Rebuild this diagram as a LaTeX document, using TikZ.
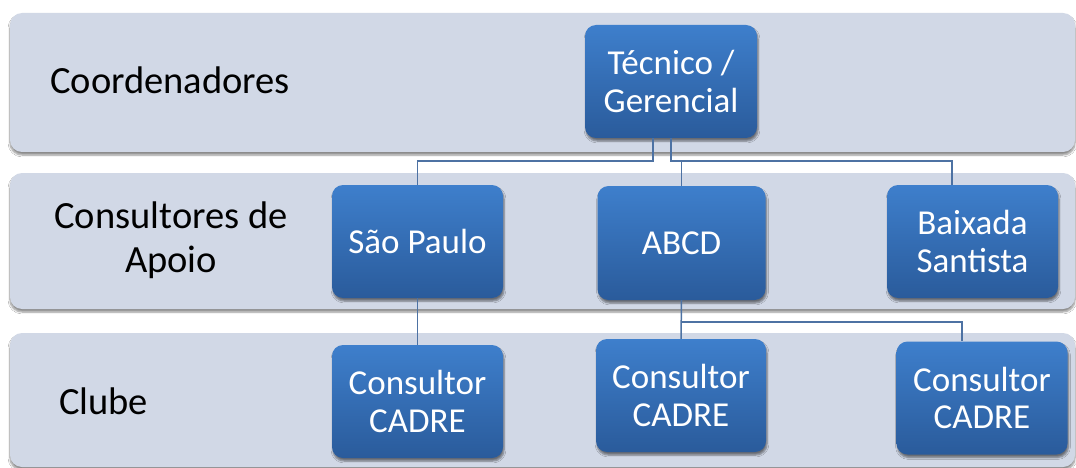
\documentclass[tikz,border=0pt]{standalone}
\usepackage{fontspec}
\setmainfont{Carlito}
\usetikzlibrary{shadows,shadows.blur,fadings}
\definecolor{bandfill}{HTML}{D1D8E6}
\definecolor{boxtop}{HTML}{3E7FCC}
\definecolor{boxbot}{HTML}{2A5B9B}
\definecolor{conncol}{HTML}{4D72A3}
\begin{document}
\begin{tikzpicture}[x=1pt,y=-1pt,
  band/.style={fill=bandfill, rounded corners=12pt,
    blur shadow={shadow xshift=0pt, shadow yshift=-3pt, shadow blur steps=6, shadow opacity=45}},
  orgbox/.style={rectangle, rounded corners=11pt, top color=boxtop, bottom color=boxbot,
    draw=none, minimum width=171pt, minimum height=113pt, inner sep=0pt,
    align=center, text=white, font=\fontsize{35}{37.5}\selectfont,
    blur shadow={shadow xshift=1pt, shadow yshift=-3pt, shadow blur steps=5, shadow opacity=50}},
  rowlabel/.style={align=center, text=black, inner sep=0pt, font=\fontsize{38.5}{44}\selectfont},
  conn/.style={draw=conncol, line width=1.5pt}
]
\useasboundingbox (0,0) rectangle (1076,468);
\fill[white] (0,0) rectangle (1076,468);

% bands
\path[band] (10,13) rectangle (1075,152);
\path[band] (10,173) rectangle (1075,309);
\path[band] (10,333) rectangle (1075,467);

% row labels
\node[rowlabel, anchor=west] (lab1) at (50,80) {Coordenadores};
\node[rowlabel] (lab2) at (171,240) {Consultores de\\Apoio};
\node[rowlabel, anchor=west] (lab3) at (59,401) {Clube};

% coordinates for connectors
\coordinate (j1) at (653,161);
\coordinate (j2) at (671,161);
\coordinate (bx) at (952,161);
\coordinate (j3) at (681,322);
\coordinate (cx) at (962,322);

\node[orgbox, minimum width=172pt] (tg) at (671,81.5) {Técnico /\\Gerencial};
\node[orgbox] (sp) at (417.5,241.5) {São Paulo};
\node[orgbox, minimum width=168pt, minimum height=114pt] (abcd) at (681.5,243) {ABCD};
\node[orgbox] (bs) at (972.5,241.5) {Baixada\\Santista};
\node[orgbox] (c1) at (417.5,401.5) {Consultor\\CADRE};
\node[orgbox, minimum width=170pt] (c2) at (681,395.5) {Consultor\\CADRE};
\node[orgbox] (c3) at (982,398) {Consultor\\CADRE};

\draw[conn] (tg.south -| j1) -- (j1) -| (sp.north);
\draw[conn] (tg.south -| j2) -- (j2) -- (bx) -- (bx |- bs.north);
\draw[conn] (j2) -- (j2 -| abcd.north) -- (abcd.north);
\draw[conn] (sp.south) -- (c1.north);
\draw[conn] (abcd.south) -- (c2.north);
\draw[conn] (j3) -- (cx) -- (cx |- c3.north);
\end{tikzpicture}
\end{document}
